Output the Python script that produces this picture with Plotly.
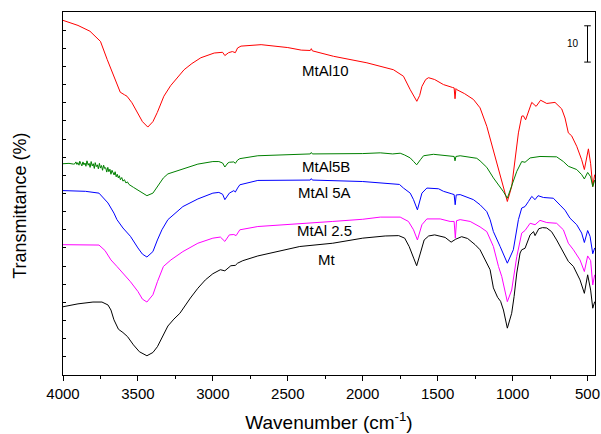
import plotly.graph_objects as go

# ---------------- data (wavenumber cm-1, transmittance a.u.) ----------------
wn_mtal10 = [4000, 3900, 3820, 3750, 3705, 3660, 3618, 3590, 3573, 3540, 3505, 3470, 3434, 3400,
             3371, 3327, 3282, 3240, 3192, 3140, 3080, 2991, 2935, 2920, 2895, 2870, 2850, 2835,
             2812, 2678, 2500, 2410, 2350, 2343, 2336, 2195, 1972, 1795, 1728, 1683, 1660, 1639,
             1620, 1605, 1580, 1561, 1520, 1461, 1400, 1390, 1384, 1378, 1372, 1320, 1261, 1217,
             1172, 1139, 1117, 1083, 1061, 1035, 1006, 983, 961, 939, 928, 913, 894, 872, 843,
             813, 772, 717, 672, 650, 628, 606, 572, 539, 521, 494, 479, 465, 452]
t_mtal10 = [97.7, 96.3, 94.7, 91.9, 86.9, 82.2, 77.9, 77.2, 76.8, 75.0, 72.3, 69.8, 68.3, 69.8,
            72.3, 76.8, 79.7, 81.7, 84.1, 85.8, 87.4, 88.7, 88.9, 88.0, 88.8, 89.1, 88.8, 90.1,
            90.6, 91.0, 90.2, 89.5, 89.4, 89.9, 89.3, 87.8, 86.0, 84.1, 82.3, 78.6, 76.7, 75.4,
            77.0, 79.5, 81.4, 81.9, 81.4, 80.0, 79.2, 79.1, 76.1, 78.9, 78.6, 77.5, 75.9, 73.6,
            68.5, 63.5, 60.0, 55.6, 51.9, 47.8, 51.9, 59.3, 66.7, 71.3, 71.4, 70.3, 72.6, 75.1, 74.0,
            75.7, 74.8, 75.1, 73.3, 70.8, 66.7, 65.9, 63.0, 59.3, 56.6, 62.3, 58.2, 51.9, 55.2]

wn_mtal5b = [4000, 3960, 3930, 3920, 3914, 3907, 3901, 3893, 3888, 3880, 3874, 3867, 3860, 3853,
             3847, 3840, 3832, 3826, 3819, 3812, 3805, 3798, 3791, 3785, 3778, 3771, 3764, 3757,
             3750, 3743, 3736, 3729, 3722, 3715, 3708, 3701, 3694, 3687, 3680, 3673, 3666, 3659,
             3652, 3645, 3638, 3631, 3624, 3617, 3608, 3600, 3590, 3580, 3570, 3560, 3530, 3500,
             3440, 3400, 3370, 3330, 3300, 3200, 3100, 3000, 2960, 2935, 2920, 2900, 2890, 2860,
             2850, 2835, 2820, 2700, 2420, 2350, 2343, 2336, 2000, 1883, 1800, 1750, 1720, 1683,
             1660, 1640, 1615, 1594, 1528, 1439, 1390, 1384, 1378, 1350, 1300, 1239, 1217, 1172,
             1128, 1083, 1061, 1035, 1006, 972, 939, 917, 883, 850, 817, 706, 661, 628, 572, 539,
             521, 499, 479, 465, 452]
t_mtal5b = [58.2, 58.3, 58.1, 58.2, 58.7, 58.0, 58.5, 57.8, 58.9, 58.1, 57.6, 58.7, 57.9, 58.4,
            57.5, 59.0, 57.8, 58.3, 57.2, 58.8, 57.6, 58.2, 56.9, 58.5, 57.4, 57.9, 56.8, 58.3,
            57.0, 57.7, 56.4, 57.8, 56.9, 57.1, 55.9, 57.2, 56.0, 56.7, 55.3, 56.4, 55.6, 55.1,
            56.0, 54.6, 55.3, 54.3, 54.9, 53.8, 54.4, 53.4, 53.8, 52.9, 53.2, 52.5, 51.7, 51.0,
            49.4, 50.1, 51.9, 54.3, 55.4, 56.7, 58.1, 58.8, 58.8, 58.4, 57.3, 58.4, 58.6, 58.7,
            58.3, 59.2, 59.6, 60.4, 60.9, 60.9, 61.3, 60.9, 61.0, 61.2, 60.9, 61.1, 60.6, 59.8,
            58.8, 57.9, 59.3, 60.4, 60.8, 60.3, 60.2, 59.0, 60.2, 60.4, 60.0, 59.7, 59.0, 57.2,
            54.3, 51.9, 50.5, 48.7, 51.9, 56.1, 58.8, 58.6, 59.8, 59.9, 60.2, 60.1, 58.8, 57.5,
            56.6, 55.2, 54.0, 55.8, 54.6, 51.9, 53.7]

wn_mtal5a = [4000, 3850, 3760, 3700, 3660, 3640, 3600, 3550, 3500, 3470, 3440, 3400, 3370, 3340,
             3300, 3250, 3200, 3100, 3000, 2960, 2935, 2920, 2900, 2890, 2860, 2850, 2835, 2820,
             2700, 2420, 2350, 2343, 2336, 2000, 1883, 1800, 1755, 1728, 1683, 1661, 1635, 1605,
             1572, 1494, 1461, 1405, 1390, 1383, 1376, 1350, 1261, 1217, 1172, 1150, 1128, 1083,
             1035, 995, 961, 939, 917, 894, 872, 850, 830, 794, 728, 683, 650, 617, 572, 539, 521,
             499, 483, 465, 452]
t_mtal5a = [50.8, 50.6, 50.1, 47.4, 44.6, 42.8, 40.5, 38.2, 35.0, 33.3, 32.5, 34.0, 37.2, 40.0,
            42.8, 44.6, 46.4, 48.5, 50.1, 50.3, 49.8, 48.3, 49.6, 50.1, 50.8, 50.4, 51.5, 52.4,
            53.6, 53.8, 53.7, 54.1, 53.7, 53.3, 52.9, 52.7, 52.5, 51.5, 50.1, 48.3, 45.5, 50.1,
            51.5, 51.3, 50.6, 49.9, 49.7, 46.9, 49.6, 49.7, 48.3, 46.9, 45.0, 42.8, 39.5, 35.4,
            30.8, 34.5, 42.8, 46.0, 46.4, 47.8, 49.2, 48.3, 49.4, 48.9, 48.7, 46.8, 45.4, 43.2,
            41.4, 39.1, 36.5, 39.8, 38.2, 33.4, 35.0]

wn_mtal25 = [4000, 3800, 3760, 3720, 3680, 3640, 3600, 3550, 3500, 3470, 3440, 3400, 3370, 3330,
             3280, 3200, 3100, 3000, 2950, 2920, 2890, 2860, 2845, 2820, 2700, 2420, 2200, 2000,
             1883, 1750, 1695, 1661, 1635, 1605, 1572, 1483, 1417, 1390, 1382, 1374, 1350, 1283,
             1217, 1172, 1128, 1094, 1072, 1035, 1006, 972, 939, 917, 883, 850, 817, 772, 706,
             661, 628, 594, 550, 521, 499, 479, 465, 452]
t_mtal25 = [35.9, 35.9, 35.8, 34.3, 31.7, 29.9, 28.1, 25.7, 23.0, 20.9, 20.1, 22.1, 25.7, 29.9,
            31.7, 34.0, 36.3, 37.7, 38.0, 36.8, 38.6, 38.7, 38.4, 40.0, 40.9, 41.8, 42.3, 42.9,
            43.5, 43.5, 42.3, 40.0, 37.2, 41.4, 43.0, 43.0, 42.3, 42.3, 37.7, 42.5, 42.8, 42.3,
            40.8, 39.5, 35.4, 29.9, 27.1, 20.2, 23.4, 32.6, 39.1, 39.8, 41.8, 41.4, 42.6, 42.0, 41.8,
            40.0, 36.3, 34.5, 31.7, 28.5, 32.8, 31.5, 24.8, 27.6]

wn_mt = [4000, 3900, 3800, 3740, 3700, 3680, 3660, 3630, 3600, 3570, 3530, 3490, 3440, 3400,
         3370, 3330, 3300, 3260, 3220, 3150, 3100, 3050, 3000, 2950, 2920, 2880, 2850, 2835,
         2800, 2700, 2600, 2500, 2420, 2200, 2000, 1850, 1760, 1720, 1690, 1660, 1640, 1615,
         1590, 1560, 1520, 1450, 1410, 1380, 1340, 1300, 1250, 1217, 1172, 1150, 1128, 1100,
         1080, 1061, 1035, 1006, 990, 972, 950, 939, 917, 883, 860, 850, 825, 800, 772, 740,
         706, 661, 628, 594, 570, 550, 521, 499, 479, 465, 452]
t_mt = [18.8, 19.6, 20.1, 20.1, 19.3, 17.9, 15.2, 12.6, 11.7, 10.6, 8.3, 6.4, 5.3, 6.2,
        7.8, 11.0, 13.5, 15.4, 17.0, 21.2, 23.9, 26.2, 27.9, 29.0, 28.7, 30.1, 30.2, 30.8,
        31.5, 32.8, 33.8, 34.7, 35.4, 36.3, 37.7, 38.3, 38.4, 37.7, 35.4, 32.2, 30.1, 33.6,
        37.2, 38.3, 38.6, 37.9, 36.6, 37.4, 38.1, 37.6, 35.9, 34.5, 30.8, 29.0, 24.0, 21.4,
        20.3, 17.9, 12.9, 17.0, 21.6, 28.1, 33.6, 34.5, 34.9, 38.6, 39.5, 38.4, 40.3, 40.6, 40.5, 39.5,
        37.2, 33.6, 31.3, 29.9, 28.1, 26.2, 22.5, 27.6, 23.4, 18.4, 20.2]

series = [
    ("MtAl10", wn_mtal10, t_mtal10, "#FF0000", 2250, 83.9),
    ("MtAl5B", wn_mtal5b, t_mtal5b, "#008000", 2247, 57.5),
    ("MtAl 5A", wn_mtal5a, t_mtal5a, "#0000FF", 2257, 50.3),
    ("MtAl 2.5", wn_mtal25, t_mtal25, "#FF00FF", 2257, 39.7),
    ("Mt", wn_mt, t_mt, "#000000", 2243, 31.7),
]

scale_bar_value = 10
scale_bar_x = 500
scale_bar_bottom = 86.2

FONT = "Liberation Sans, Arial, sans-serif"

fig = go.Figure()
annotations = []
for name, wn, t, color, lx, ly in series:
    fig.add_trace(go.Scatter(x=wn, y=t, mode="lines", name=name,
                             line=dict(color=color, width=1), showlegend=False))
    annotations.append(dict(x=lx, y=ly, xref="x", yref="y", text=name, showarrow=False,
                            font=dict(family=FONT, size=15, color="black"),
                            xanchor="center", yanchor="middle"))

# scale bar
top = scale_bar_bottom + scale_bar_value
shapes = [
    dict(type="line", xref="x", yref="y", x0=scale_bar_x, x1=scale_bar_x, y0=scale_bar_bottom, y1=top,
         line=dict(color="black", width=1)),
    dict(type="line", xref="x", yref="y", x0=scale_bar_x + 22, x1=scale_bar_x - 22, y0=top, y1=top,
         line=dict(color="black", width=1)),
    dict(type="line", xref="x", yref="y", x0=scale_bar_x + 22, x1=scale_bar_x - 22,
         y0=scale_bar_bottom, y1=scale_bar_bottom, line=dict(color="black", width=1)),
]
annotations.append(dict(x=scale_bar_x + 97, y=scale_bar_bottom + scale_bar_value / 2, xref="x", yref="y",
                        text=str(scale_bar_value), showarrow=False,
                        font=dict(family=FONT, size=10, color="black"),
                        xanchor="center", yanchor="middle"))
# y-axis title
annotations.append(dict(x=-0.081, y=0.466, xref="paper", yref="paper", text="Transmittance (%)",
                        textangle=-90, showarrow=False,
                        font=dict(family=FONT, size=18, color="black"),
                        xanchor="center", yanchor="middle"))

fig.update_layout(
    width=601, height=434,
    margin=dict(l=63, r=6, t=12, b=59),
    paper_bgcolor="white", plot_bgcolor="white",
    font=dict(family=FONT, color="black"),
    shapes=shapes, annotations=annotations,
    xaxis=dict(range=[4000, 450], tickmode="linear", tick0=500, dtick=500, automargin=False,
               ticks="outside", ticklen=5, tickwidth=1, tickcolor="black",
               minor=dict(dtick=250, tick0=500, ticks="outside", ticklen=3, tickcolor="black"),
               showgrid=False, zeroline=False, showline=True, linecolor="black", linewidth=1,
               mirror=True, tickfont=dict(family=FONT, size=15, color="black"),
               title=dict(text="Wavenumber (cm<sup>-1</sup>)", font=dict(family=FONT, size=19, color="black"),
                          standoff=14)),
    yaxis=dict(range=[0, 100], tickmode="linear", tick0=0, dtick=5, showticklabels=False, automargin=False,
               ticks="inside", ticklen=3, tickwidth=1, tickcolor="black",
               showgrid=False, zeroline=False, showline=True, linecolor="black", linewidth=1,
               mirror=True),
)

fig.write_html("out.html", config={"displayModeBar": False},
               post_script="document.body.style.margin='0';document.body.style.overflow='hidden';")
